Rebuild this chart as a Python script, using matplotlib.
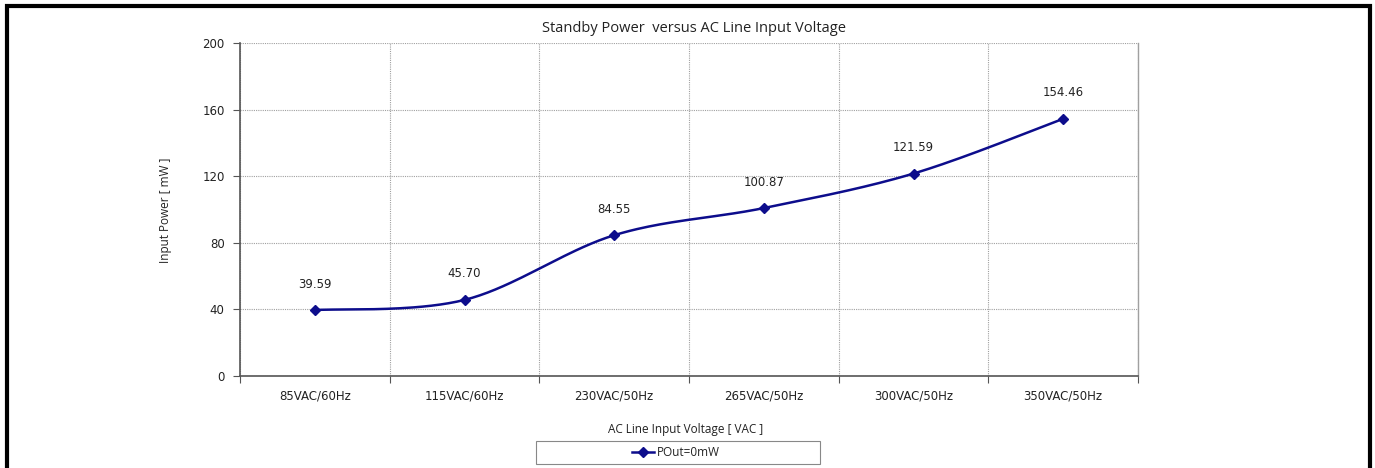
import numpy as np
import matplotlib

matplotlib.use("Agg")
import matplotlib.pyplot as plt
from matplotlib.patches import Rectangle
from matplotlib.lines import Line2D

categories = ["85VAC/60Hz", "115VAC/60Hz", "230VAC/50Hz",
              "265VAC/50Hz", "300VAC/50Hz", "350VAC/50Hz"]
power_mw = [39.59, 45.70, 84.55, 100.87, 121.59, 154.46]
series_name = "POut=0mW"
y_ticks = [0, 40, 80, 120, 160, 200]

W, H = 1375, 468
LINE = "#0d0d8c"
GRID = "#a0a0a0"


def smooth(xs, ys, n=40):
    # excel-like bezier smoothing through the points
    xs = np.asarray(xs, float)
    ys = np.asarray(ys, float)
    px, py = [], []
    m = len(xs)
    for i in range(m - 1):
        x0, y0 = (xs[i - 1], ys[i - 1]) if i > 0 else (xs[i], ys[i])
        x1, y1 = xs[i], ys[i]
        x2, y2 = xs[i + 1], ys[i + 1]
        x3, y3 = (xs[i + 2], ys[i + 2]) if i + 2 < m else (x2, y2)
        c1x, c1y = x1 + (x2 - x0) / 6, y1 + (y2 - y0) / 6
        c2x, c2y = x2 - (x3 - x1) / 6, y2 - (y3 - y1) / 6
        t = np.linspace(0, 1, n)
        a, b, c, d = (1 - t) ** 3, 3 * (1 - t) ** 2 * t, 3 * (1 - t) * t ** 2, t ** 3
        px.extend(a * x1 + b * c1x + c * c2x + d * x2)
        py.extend(a * y1 + b * c1y + c * c2y + d * y2)
    return np.array(px), np.array(py)


fig = plt.figure(figsize=(W / 100, H / 100), dpi=100)
ax = fig.add_axes([240 / W, 1 - 376 / H, 898 / W, 333 / H])

x = np.arange(len(categories)) + 0.5
sx, sy = smooth(x, power_mw)
ax.plot(sx, sy, color=LINE, lw=1.8, zorder=3)
ax.plot(x, power_mw, ls="none", marker="D", ms=5.5, color=LINE, zorder=4)
for xi, yi in zip(x, power_mw):
    ax.annotate(f"{yi:.2f}", (xi, yi), xytext=(0, 14), textcoords="offset points",
                ha="center", va="bottom", fontsize=8.5, family="DejaVu Sans",
                color="#222222")

ax.set_xlim(0, len(categories))
ax.set_ylim(0, 200)
ax.set_yticks(y_ticks)
ax.set_xticks(np.arange(len(categories) + 1))
ax.set_xticklabels([])
ax.set_xticks(x, minor=True)
ax.set_xticklabels(categories, minor=True)
ax.tick_params(axis="x", which="minor", length=0, pad=10, labelsize=8.5)
ax.tick_params(axis="x", which="major", length=5, color="#555555")
ax.tick_params(axis="y", length=5, color="#555555", labelsize=8.5, pad=6)
for lab in ax.get_xticklabels(minor=True) + ax.get_yticklabels():
    lab.set_family("DejaVu Sans")
    lab.set_color("#222222")

ax.grid(True, which="major", color=GRID, ls=(0, (1, 1)), lw=0.8)
ax.axvline(len(categories), color=GRID, lw=1.0, clip_on=False)
for s in ["top", "right"]:
    ax.spines[s].set_visible(False)
ax.spines["left"].set_color("#555555")
ax.spines["bottom"].set_color("#555555")
ax.spines["left"].set_linewidth(1.2)
ax.spines["bottom"].set_linewidth(1.2)

fig.text(694 / W, 1 - 28 / H, "Standby Power  versus AC Line Input Voltage",
         ha="center", va="center", fontsize=10.5, family="Open Sans", color="#222222")
fig.text(165 / W, 1 - 210 / H, "Input Power [ mW ]", rotation=90,
         ha="center", va="center", fontsize=8.5, family="Open Sans", color="#222222")
fig.text(686 / W, 1 - 430 / H, "AC Line Input Voltage [ VAC ]",
         ha="center", va="center", fontsize=8.5, family="Open Sans", color="#222222")

# legend box
fig.patches.append(Rectangle((536 / W, 1 - 464 / H), 284 / W, 23 / H,
                             transform=fig.transFigure, fill=False,
                             ec="#888888", lw=0.8))
fig.lines.append(Line2D([632 / W, 654 / W], [1 - 452 / H] * 2, transform=fig.transFigure,
                        color=LINE, lw=1.8))
fig.lines.append(Line2D([643 / W], [1 - 452 / H], transform=fig.transFigure,
                        color=LINE, marker="D", ms=5, ls="none"))
fig.text(657 / W, 1 - 452 / H, series_name, ha="left", va="center",
         fontsize=8.5, family="Open Sans", color="#222222")

# outer black frame (bottom edge outside the image)
fig.patches.append(Rectangle((6.5 / W, -0.05), 1363 / W, 1.05 - 6.5 / H,
                             transform=fig.transFigure, fill=False,
                             ec="black", lw=3))

fig.savefig("out.png", dpi=100)
